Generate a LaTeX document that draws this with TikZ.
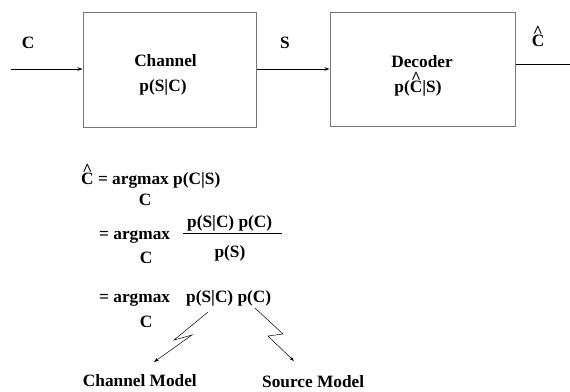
\documentclass[tikz,border=0pt]{standalone}
\usepackage{fontspec}
\setmainfont{Liberation Serif}
\usetikzlibrary{arrows.meta}
\newcommand{\hC}{\ooalign{C\cr\hidewidth\raisebox{0.5em}{\textasciicircum}\hidewidth\cr}}
\definecolor{boxgray}{RGB}{120,120,120}
\begin{document}
\begin{tikzpicture}[x=1pt,y=-1pt,
  txt/.style={font=\fontsize{17.3}{20}\selectfont\bfseries, inner sep=0pt},
  blk/.style={draw=boxgray, line width=1pt, inner sep=0pt},
  sig/.style={line width=0.8pt, -{Stealth[length=5pt,width=3.5pt]}},
  bolt/.style={line width=0.5pt, -{Stealth[length=5pt,width=3.5pt]}}]
\useasboundingbox (0,0) rectangle (570,391);
% blocks
\node[blk, minimum width=173pt, minimum height=115pt] (chan) at (169.5,69.5) {};
\node[blk, minimum width=185pt, minimum height=114pt] (dec) at (422.5,69) {};
\node[txt] (channame) at (165.5,61) {Channel};
\node[txt] (chanp) at (163,87) {p(S|C)};
\node[txt] (decname) at (422,62) {Decoder};
\node[txt] (decp) at (418,88) {p(\hC|S)};
% signals
\coordinate (in) at (11,69);
\coordinate (out) at (570,64);
\draw[sig] (in) -- (in -| chan.west);
\draw[sig] (chan.east |- in) -- (in -| dec.west);
\draw[line width=0.8pt] (out -| dec.east) -- (out);
\node[txt] (lc) at (28,43) {C};
\node[txt] (ls) at (285,43) {S};
\node[txt, anchor=base] (lchat) at (538,46) {\hC};
% equations
\node[txt, anchor=base west] (eq1) at (81,184) {\hC{} = argmax p(C|S)};
\node[txt, anchor=base] (eq1c) at (145,205) {C};
\node[txt, anchor=base west] (eq2) at (99,239) {= argmax};
\node[txt, anchor=base] (eq2c) at (146,263) {C};
\node[txt, anchor=base west] (num) at (187,227) {p(S|C) p(C)};
\coordinate (fracl) at (183,233);
\coordinate (fracr) at (282,233);
\draw[line width=1pt] (fracl) -- (fracr);
\node[txt, anchor=base] (den) at (230,257) {p(S)};
\node[txt, anchor=base west] (eq3) at (99,302) {= argmax};
\node[txt, anchor=base west] (eq3r) at (186,302) {p(S|C) p(C)};
\node[txt, anchor=base] (eq3c) at (146,327) {C};
% model labels
\node[txt, anchor=base east] (cm) at (197,386) {Channel Model};
\node[txt, anchor=base west] (sm) at (262,387.5) {Source Model};
% lightning arrows
\coordinate (b1s) at (208,312);
\coordinate (b1e) at (154,362);
\coordinate (b2s) at (255,308);
\coordinate (b2e) at (294,361);
\draw[bolt] (b1s) -- (174,340) -- (192,335) -- (b1e);
\draw[bolt] (b2s) -- (283,334) -- (268,336) -- (b2e);
\end{tikzpicture}
\end{document}
